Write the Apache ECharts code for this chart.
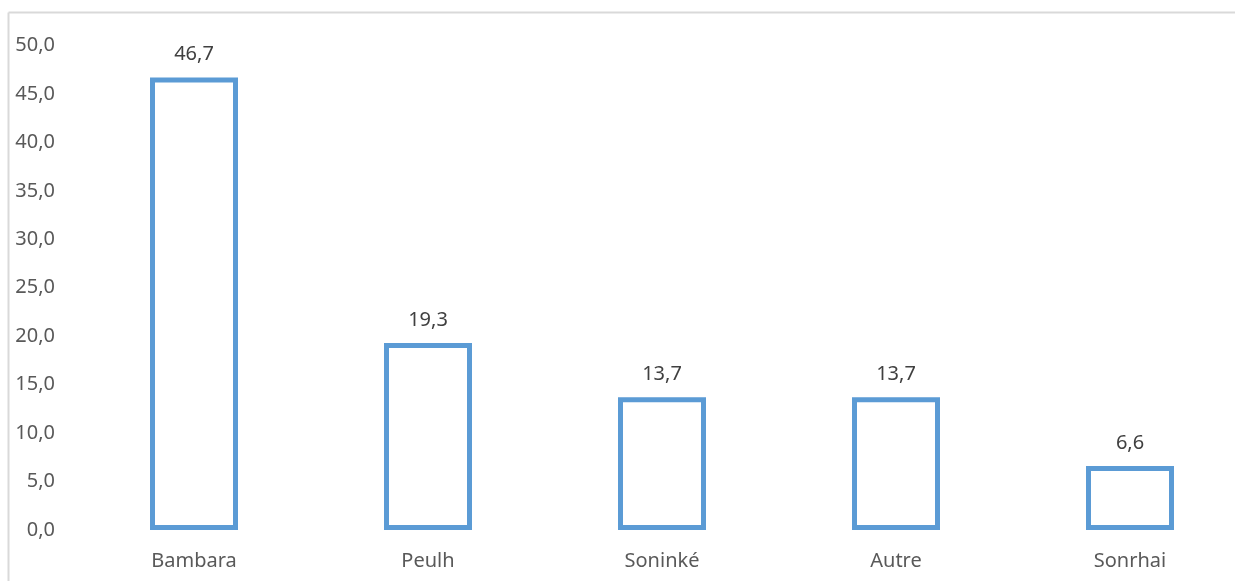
<!DOCTYPE html>
<html>
<head>
<meta charset="utf-8">
<script src="https://cdn.jsdelivr.net/npm/echarts@6/dist/echarts.min.js"></script>
<style>
html,body{margin:0;padding:0;background:#fff;overflow:hidden;}
#chart{width:1235px;height:581px;display:block;}
</style>
</head>
<body>
<div id="chart"></div>
<script>
const categories = ["Bambara", "Peulh", "Soninké", "Autre", "Sonrhai"];
const values = [46.7, 19.3, 13.7, 13.7, 6.6];
const yMin = 0, yMax = 50, yInterval = 5;

const fmt = v => Number(v).toFixed(1).replace('.', ',');

const chart = echarts.init(document.getElementById('chart'), null, {renderer: 'canvas'});
chart.setOption({
  animation: false,
  backgroundColor: '#ffffff',
  textStyle: {fontFamily: 'Noto Sans'},
  graphic: [
    {type: 'line', shape: {x1: 8.5, y1: 12.5, x2: 1235, y2: 12.5},
     style: {stroke: '#d9d9d9', lineWidth: 2}, silent: true, z: -1},
    {type: 'line', shape: {x1: 8.5, y1: 12.5, x2: 8.5, y2: 581},
     style: {stroke: '#d9d9d9', lineWidth: 2}, silent: true, z: -1}
  ],
  grid: {left: 77, top: 45.5, width: 1170, height: 484.5, containLabel: false, outerBoundsMode: 'none'},
  xAxis: {
    type: 'category',
    data: categories,
    axisLine: {show: false},
    axisTick: {show: false},
    axisLabel: {color: '#595959', fontSize: 20, margin: 21, fontFamily: 'Noto Sans'}
  },
  yAxis: {
    type: 'value',
    min: yMin, max: yMax, interval: yInterval,
    axisLine: {show: false},
    axisTick: {show: false},
    splitLine: {show: false},
    axisLabel: {color: '#595959', fontSize: 20, margin: 22, formatter: fmt, fontFamily: 'Noto Sans'}
  },
  series: [{
    type: 'bar',
    data: values,
    barWidth: 88,
    itemStyle: {color: '#ffffff', borderColor: '#5b9bd5', borderWidth: 5},
    label: {
      show: true, position: 'top', distance: 13,
      color: '#404040', fontSize: 20, fontFamily: 'Noto Sans',
      formatter: p => fmt(p.value)
    }
  }]
});
</script>
</body>
</html>
